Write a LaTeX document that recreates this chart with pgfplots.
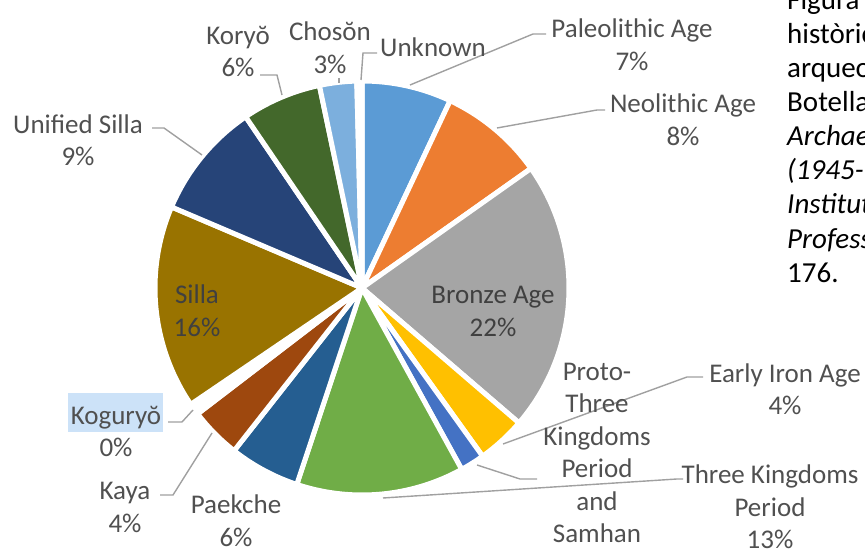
\documentclass[border=0pt]{standalone}
\usepackage{pgfplots}
\pgfplotsset{compat=1.18}
\usepackage{pgfplotstable}
\usepackage{fontspec}
\setmainfont{Carlito}
\definecolor{cPal}{HTML}{5B9BD5}
\definecolor{cNeo}{HTML}{ED7D31}
\definecolor{cBro}{HTML}{A5A5A5}
\definecolor{cIro}{HTML}{FFC000}
\definecolor{cPro}{HTML}{4472C4}
\definecolor{cThr}{HTML}{70AD47}
\definecolor{cPae}{HTML}{255E91}
\definecolor{cKay}{HTML}{9E480E}
\definecolor{cKog}{HTML}{FFFFFF}
\definecolor{cSil}{HTML}{997300}
\definecolor{cUni}{HTML}{264478}
\definecolor{cKor}{HTML}{43682B}
\definecolor{cCho}{HTML}{7CAFDD}
\definecolor{cUnk}{HTML}{F1975A}
\definecolor{lbl}{HTML}{505050}
\definecolor{lead}{HTML}{A0A0A0}
\definecolor{hl}{HTML}{CCE2F8}
% shares of the pie (percent), clockwise from 12 o'clock
\pgfplotstableread{
value color
7.0  cPal
8.2  cNeo
21.1 cBro
3.8  cIro
1.9  cPro
13.1 cThr
5.5  cPae
4.0  cKay
0.9  cKog
15.9 cSil
9.1  cUni
6.2  cKor
2.9  cCho
0.4  cUnk
}\slices
\begin{document}
\begin{tikzpicture}
\clip (0,0) rectangle (865pt,554pt);
\begin{axis}[at={(0,0)}, anchor=south west, hide axis, scale only axis,
  x=1pt, y=1pt, xmin=0, xmax=865, ymin=0, ymax=554, enlargelimits=false, clip=false]
\def\cum{0}
\pgfplotsforeachungrouped \i in {0,...,13}{%
  \pgfplotstablegetelem{\i}{value}\of\slices \let\v\pgfplotsretval
  \pgfplotstablegetelem{\i}{color}\of\slices \let\col\pgfplotsretval
  \pgfmathsetmacro\a{90-3.6*\cum}%
  \pgfmathsetmacro\b{90-3.6*(\cum+\v)}%
  \edef\tmp{\noexpand\addplot[fill=\col, draw=white, line width=5pt, line join=round, domain=\b:\a, samples=80] ({362+207*cos(x)},{266+207*sin(x)}) -- (axis cs:362,266) -- cycle;}%
  \tmp
  \pgfmathsetmacro\cum{\cum+\v}%
}
% leader lines
\begin{scope}[lead, line width=1.4pt]
\draw (axis cs:410,469) -- (axis cs:533,520) -- (axis cs:546,520);
\draw (axis cs:497,426) -- (axis cs:597,444) -- (axis cs:605,444);
\draw (axis cs:503,110) -- (axis cs:687,177) -- (axis cs:703,177);
\draw (axis cs:477,89) -- (axis cs:520,75) -- (axis cs:537,75);
\draw (axis cs:383,56) -- (axis cs:677,75) -- (axis cs:683,75);
\draw (axis cs:212,121) -- (axis cs:173,59) -- (axis cs:160,59);
\draw (axis cs:193,144) -- (axis cs:182,132) -- (axis cs:168,132);
\draw (axis cs:202,399) -- (axis cs:164,426) -- (axis cs:152,426);
\draw (axis cs:282,459) -- (axis cs:277,479) -- (axis cs:260,479);
\draw (axis cs:339,476) -- (axis cs:339,471);
\draw (axis cs:361,474) -- (axis cs:363,501) -- (axis cs:377,501);
\end{scope}
\fill[hl] (axis cs:68,122) rectangle (axis cs:163,161);
\begin{scope}[every node/.style={text=lbl, align=center, inner sep=0pt, font=\fontsize{27}{32.5}\selectfont}]
\node at (axis cs:632,509.5) {Paleolithic Age\\7\%};
\node at (axis cs:683,434.5) {Neolithic Age\\8\%};
\node[text=black!75] at (axis cs:493,242.5) {Bronze Age\\22\%};
\node at (axis cs:785,165) {Early Iron Age\\4\%};
\node at (axis cs:597,101) {Proto-\\Three\\Kingdoms\\Period\\and\\Samhan};
\node at (axis cs:770,47) {Three Kingdoms\\Period\\13\%};
\node at (axis cs:236,33.5) {Paekche\\6\%};
\node at (axis cs:125,46.5) {Kaya\\4\%};
\node at (axis cs:116,122.5) {Koguryŏ\\0\%};
\node[text=black!75] at (axis cs:197,243.5) {Silla\\16\%};
\node at (axis cs:78,414) {Unified Silla\\9\%};
\node at (axis cs:238,502.5) {Koryŏ\\6\%};
\node at (axis cs:330,506.5) {Chosŏn\\3\%};
\node at (axis cs:433,507) {Unknown};
\end{scope}
\begin{scope}[every node/.style={text=black, anchor=base west, inner sep=0pt, font=\fontsize{29}{34}\selectfont}]
\node at (axis cs:787,544) {Figura 5.};
\node at (axis cs:787,510) {històrics};
\node at (axis cs:787,476) {arqueològics};
\node at (axis cs:787,442) {Botella,};
\node at (axis cs:787,408) {\itshape Archaeology};
\node at (axis cs:787,374) {\itshape (1945-1990)};
\node at (axis cs:787,340) {\itshape Institute};
\node at (axis cs:787,305) {\itshape Professor};
\node at (axis cs:787,271) {176.};
\end{scope}
\end{axis}
\end{tikzpicture}
\end{document}
